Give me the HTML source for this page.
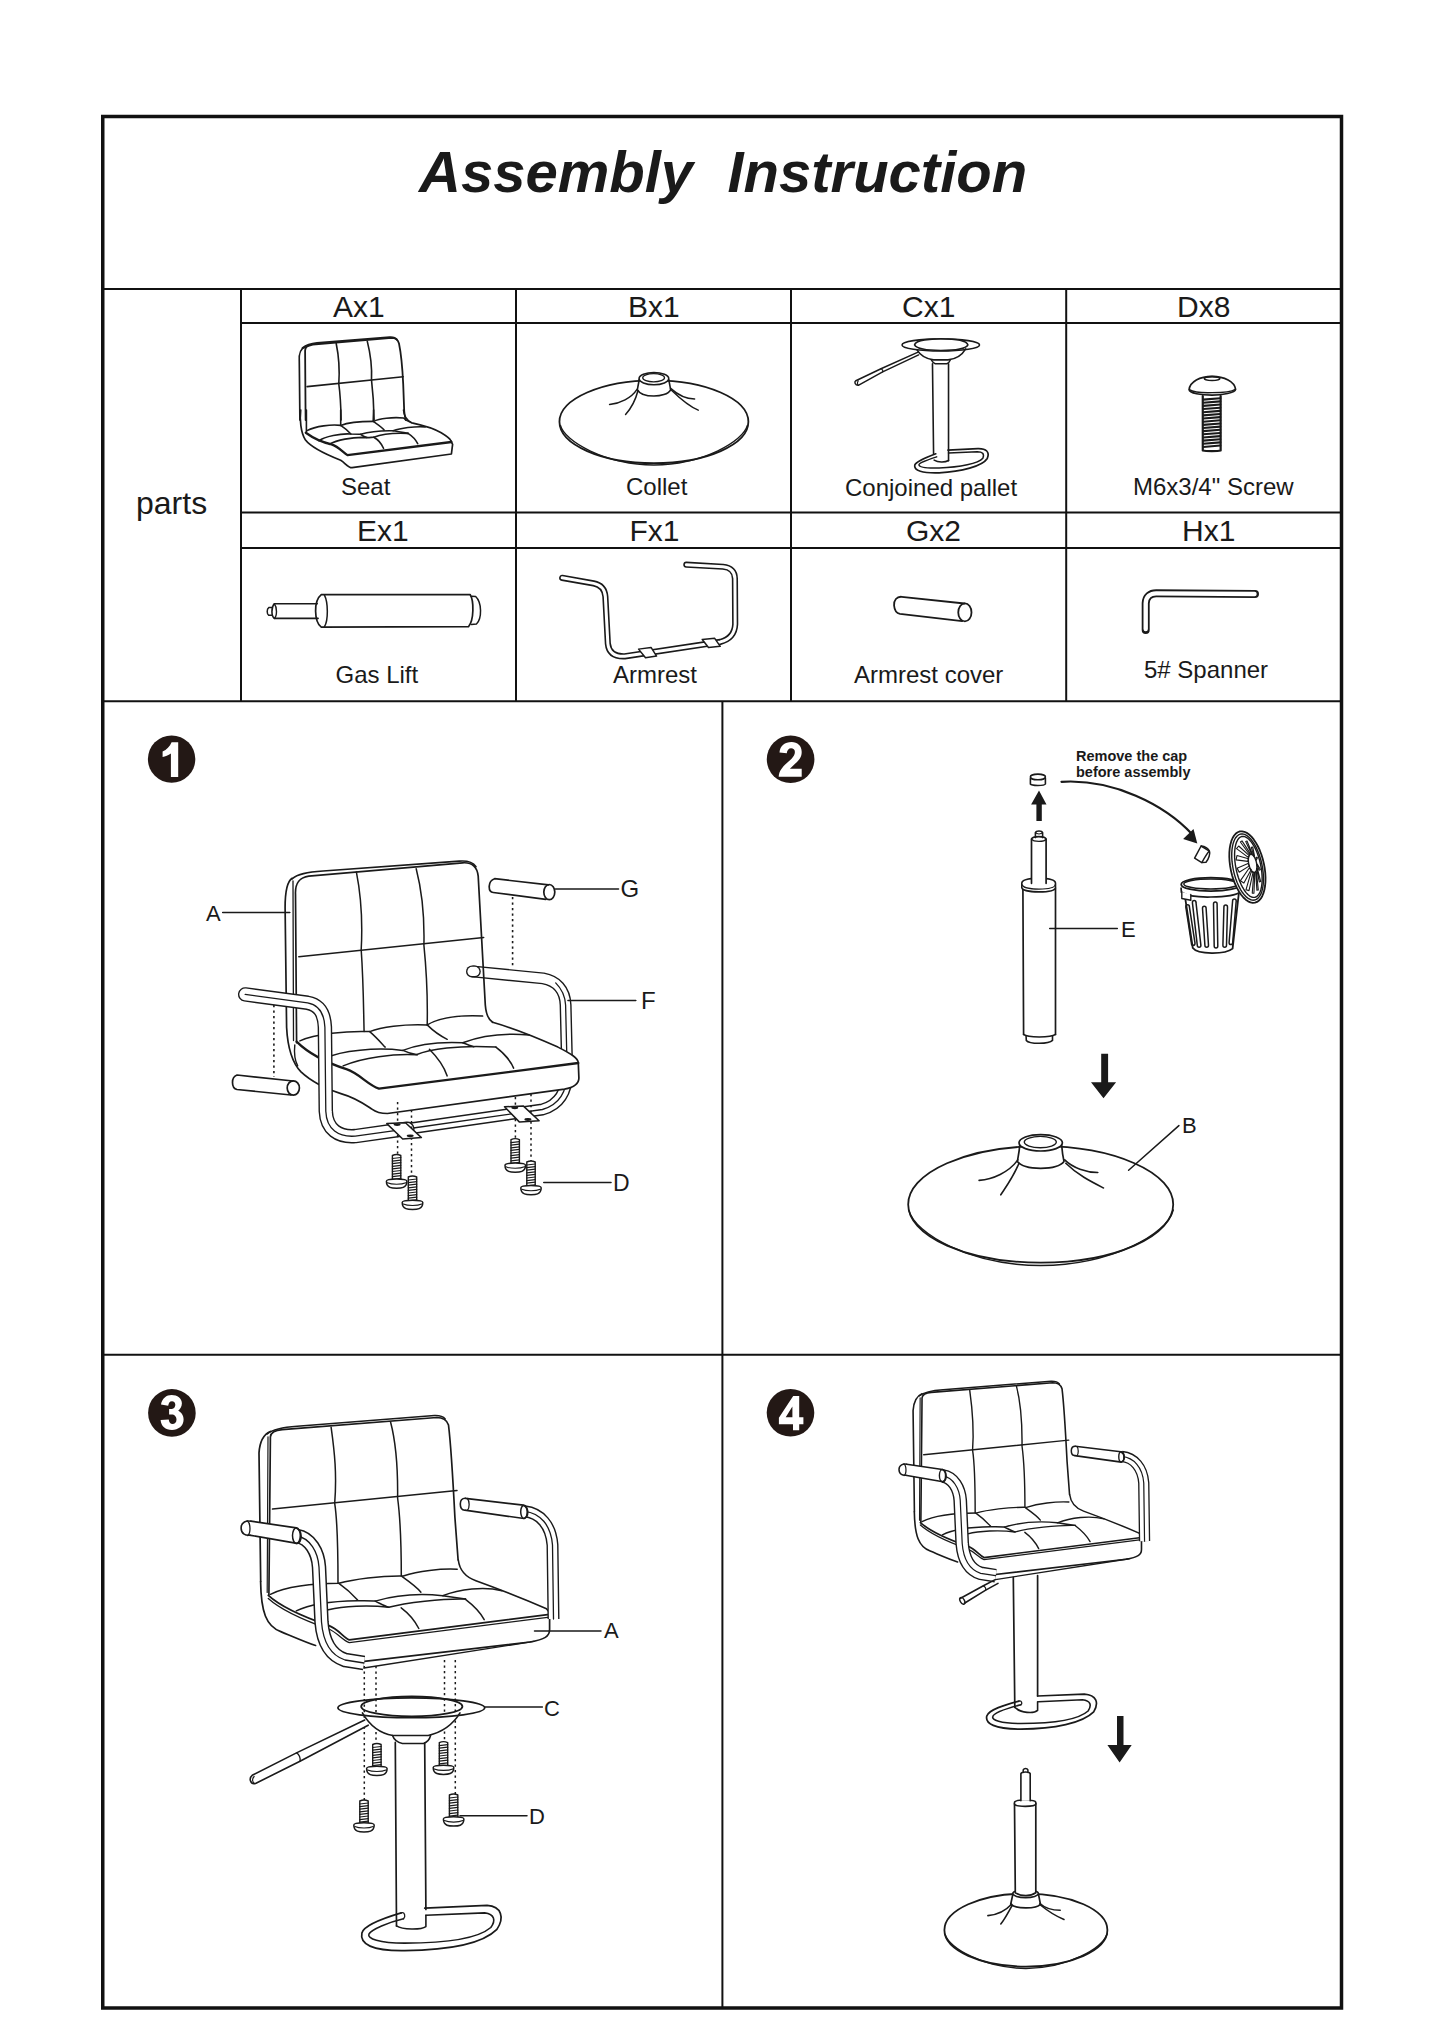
<!DOCTYPE html>
<html><head><meta charset="utf-8">
<style>
html,body{margin:0;padding:0;background:#fff;}
body{width:1445px;height:2043px;overflow:hidden;}
svg{display:block;}
.t{font-family:"Liberation Sans",sans-serif;fill:#1a1a1a;}
.g{stroke:#1a1a1a;fill:none;}
</style></head><body>
<svg width="1445" height="2043" viewBox="0 0 1445 2043">
<!-- grid -->
<g stroke="#111" fill="none">
<rect x="102.75" y="116.5" width="1238.75" height="1891.5" stroke-width="3.5"/>
<line x1="103" y1="289" x2="1341" y2="289" stroke-width="2"/>
<line x1="241" y1="323" x2="1341" y2="323" stroke-width="2"/>
<line x1="241" y1="512.5" x2="1341" y2="512.5" stroke-width="1.8"/>
<line x1="241" y1="548" x2="1341" y2="548" stroke-width="2"/>
<line x1="103" y1="701.3" x2="1341" y2="701.3" stroke-width="2"/>
<line x1="103" y1="1354.7" x2="1341" y2="1354.7" stroke-width="2"/>
<line x1="241" y1="289" x2="241" y2="701" stroke-width="2"/>
<line x1="516" y1="289" x2="516" y2="701" stroke-width="2"/>
<line x1="791" y1="289" x2="791" y2="701" stroke-width="2"/>
<line x1="1066.2" y1="289" x2="1066.2" y2="701" stroke-width="2"/>
<line x1="722.4" y1="701" x2="722.4" y2="2007" stroke-width="2"/>
</g>
<!-- title -->
<text class="t" x="419" y="192" font-size="58" font-weight="bold" font-style="italic">Assembly</text>
<text class="t" x="727.5" y="192" font-size="58" font-weight="bold" font-style="italic">Instruction</text>
<!-- headers -->
<g class="t" font-size="30">
<text x="333" y="317">Ax1</text>
<text x="628" y="317">Bx1</text>
<text x="902" y="317">Cx1</text>
<text x="1177" y="317">Dx8</text>
<text x="357" y="540.6">Ex1</text>
<text x="629.5" y="540.6">Fx1</text>
<text x="906" y="540.6">Gx2</text>
<text x="1182" y="540.6">Hx1</text>
</g>
<text class="t" x="136" y="514" font-size="32">parts</text>
<g class="t" font-size="24">
<text x="341" y="495">Seat</text>
<text x="626" y="495">Collet</text>
<text x="845" y="495.5">Conjoined pallet</text>
<text x="1133" y="495">M6x3/4" Screw</text>
<text x="335.5" y="683.2">Gas Lift</text>
<text x="613" y="683.2">Armrest</text>
<text x="854" y="683.2">Armrest cover</text>
<text x="1144" y="678.2">5# Spanner</text>
</g>
<!-- DRAWINGS -->
<g stroke-linecap="round" stroke-linejoin="round">
<!-- Collet B -->
<g transform="translate(550,360) scale(0.14533)" fill="none" stroke="#1a1a1a" stroke-linecap="round">
<ellipse vector-effect="non-scaling-stroke" stroke-width="1.8" cx="715" cy="425" rx="650" ry="285"/>
<path vector-effect="non-scaling-stroke" stroke-width="1.4" d="M72,450 C100,560 380,720 715,722 C1050,720 1330,560 1358,450"/>
<ellipse vector-effect="non-scaling-stroke" stroke-width="1.6" cx="715" cy="128" rx="102" ry="42" fill="#fff"/>
<ellipse vector-effect="non-scaling-stroke" stroke-width="1.3" cx="713" cy="122" rx="75" ry="28"/>
<path vector-effect="non-scaling-stroke" stroke-width="1.6" d="M613,135 C610,170 600,195 602,205 C620,240 680,248 715,248 C760,248 815,235 830,205 C828,190 822,160 817,135"/>
<path vector-effect="non-scaling-stroke" stroke-width="1.5" d="M600,200 C560,262 480,300 410,306"/>
<path vector-effect="non-scaling-stroke" stroke-width="1.5" d="M605,212 C585,290 552,340 520,375"/>
<path vector-effect="non-scaling-stroke" stroke-width="1.5" d="M830,195 C880,240 940,268 995,268"/>
<path vector-effect="non-scaling-stroke" stroke-width="1.5" d="M836,208 C900,270 960,320 1020,345"/>
</g>
<!-- Conjoined pallet C -->
<g transform="translate(845,330) scale(0.110727)" fill="none" stroke="#1a1a1a" stroke-linecap="round" stroke-linejoin="round">
<path vector-effect="non-scaling-stroke" stroke-width="1.5" d="M660,200 L325,350 L98,458 C80,470 92,500 120,500 L340,378 L665,225"/>
<path vector-effect="non-scaling-stroke" stroke-width="1.2" d="M325,350 C340,355 345,370 340,378 M120,460 C110,470 110,490 120,500"/>
<ellipse vector-effect="non-scaling-stroke" stroke-width="1.6" cx="865" cy="135" rx="350" ry="55" fill="#fff"/>
<path vector-effect="non-scaling-stroke" stroke-width="1.6" fill="#fff" d="M628,135 C640,90 780,80 865,80 C980,80 1100,90 1110,135 C1090,175 980,185 865,185 C760,185 650,175 628,135 Z"/>
<path vector-effect="non-scaling-stroke" stroke-width="1.6" d="M650,180 C690,245 760,265 800,270 L930,270 C1000,262 1060,222 1090,170"/>
<path vector-effect="non-scaling-stroke" stroke-width="1.5" d="M778,268 C790,290 805,302 815,305 L920,305 C935,300 945,285 952,268"/>
<path vector-effect="non-scaling-stroke" stroke-width="1.6" d="M790,305 L800,1120 M935,305 L935,1180"/>
<path vector-effect="non-scaling-stroke" stroke-width="1.6" d="M805,1175 C840,1195 900,1198 935,1178"/>
<path vector-effect="non-scaling-stroke" stroke-width="1.7" d="M930,1085 L1200,1072 C1275,1070 1310,1100 1285,1160 C1240,1230 1050,1280 850,1290 C700,1295 620,1270 630,1220 C640,1190 700,1165 820,1118"/>
<path vector-effect="non-scaling-stroke" stroke-width="1.5" d="M935,1110 L1195,1100 C1240,1100 1262,1118 1245,1158 C1205,1205 1040,1240 850,1246 C730,1250 672,1238 668,1218 C668,1200 720,1182 828,1146"/>
</g>
<!-- Screw D -->
<g transform="translate(1170,365) scale(0.05536)" fill="none" stroke="#1a1a1a" stroke-linecap="round" stroke-linejoin="round">
<path vector-effect="non-scaling-stroke" stroke-width="1.7" d="M345,445 C360,300 540,205 760,205 C980,205 1170,300 1185,440 C1175,500 950,545 760,545 C560,545 350,510 345,445 Z"/>
<path vector-effect="non-scaling-stroke" stroke-width="1.3" d="M350,445 C420,490 600,505 760,500 C950,500 1120,480 1180,440"/>
<ellipse vector-effect="non-scaling-stroke" stroke-width="1.6" cx="760" cy="245" rx="140" ry="35"/>
<path vector-effect="non-scaling-stroke" stroke-width="2.2" d="M592,560 L592,1545 C650,1560 860,1560 915,1545 L915,560"/>
<path vector-effect="non-scaling-stroke" stroke-width="2.1" d="M600,625 L908,600 M600,682 L908,657 M600,739 L908,714 M600,796 L908,771 M600,853 L908,828 M600,910 L908,885 M600,967 L908,942 M600,1024 L908,999 M600,1081 L908,1056 M600,1138 L908,1113 M600,1195 L908,1170 M600,1252 L908,1227 M600,1309 L908,1284 M600,1366 L908,1341 M600,1423 L908,1398 M600,1480 L908,1455"/>
</g>
<!-- Gas lift E -->
<g transform="translate(260,585) scale(0.15916)" fill="none" stroke="#1a1a1a" stroke-linecap="round" stroke-linejoin="round">
<path vector-effect="non-scaling-stroke" stroke-width="1.7" d="M385,60 L1320,60 C1345,100 1345,220 1310,262 L385,265 C340,230 335,100 385,60 Z"/>
<path vector-effect="non-scaling-stroke" stroke-width="1.5" d="M405,64 C428,110 430,220 405,262"/>
<path vector-effect="non-scaling-stroke" stroke-width="1.5" d="M1330,70 L1355,72 C1395,110 1395,210 1360,245 L1328,248"/>
<path vector-effect="non-scaling-stroke" stroke-width="1.6" d="M360,118 L90,118 C70,140 70,195 90,210 L365,210"/>
<path vector-effect="non-scaling-stroke" stroke-width="1.4" d="M90,118 C108,140 108,195 90,210"/>
<path vector-effect="non-scaling-stroke" stroke-width="1.5" d="M78,142 L55,142 C42,150 42,182 55,190 L78,190"/>
</g>
<!-- Armrest F -->
<g transform="translate(550,555) scale(0.13841)" fill="none" stroke-linecap="round" stroke-linejoin="round">
<path vector-effect="non-scaling-stroke" stroke="#1a1a1a" stroke-width="6.2" d="M88,165 L315,205 C370,215 395,245 400,300 L418,640 C425,710 470,735 540,732 L1230,628 C1300,610 1335,565 1338,500 L1336,170 C1334,110 1300,90 1250,85 L985,70"/>
<path vector-effect="non-scaling-stroke" stroke="#fff" stroke-width="3" d="M88,165 L315,205 C370,215 395,245 400,300 L418,640 C425,710 470,735 540,732 L1230,628 C1300,610 1335,565 1338,500 L1336,170 C1334,110 1300,90 1250,85 L985,70"/>
<path vector-effect="non-scaling-stroke" stroke="#1a1a1a" stroke-width="1.5" fill="#fff" d="M640,680 L730,668 L770,730 L690,742 Z"/>
<path vector-effect="non-scaling-stroke" stroke="#1a1a1a" stroke-width="1.5" fill="#fff" d="M1100,610 L1190,602 L1230,660 L1145,668 Z"/>
</g>
<!-- Armrest cover G -->
<g transform="translate(880,585) scale(0.076125)" fill="none" stroke="#1a1a1a" stroke-linecap="round" stroke-linejoin="round">
<path vector-effect="non-scaling-stroke" stroke-width="1.8" d="M1110,243 L285,155 C220,150 180,200 185,270 C190,330 220,372 262,378 L1080,475"/>
<ellipse vector-effect="non-scaling-stroke" stroke-width="1.8" cx="1115" cy="360" rx="87" ry="118"/>
</g>
<!-- Spanner H -->
<g transform="translate(1130,580) scale(0.09689)" fill="none" stroke-linecap="round" stroke-linejoin="round">
<path vector-effect="non-scaling-stroke" stroke="#1a1a1a" stroke-width="8" d="M162,515 L162,240 C165,170 210,138 270,138 L1290,145"/>
<path vector-effect="non-scaling-stroke" stroke="#fff" stroke-width="4.4" d="M162,505 L162,240 C165,170 210,138 270,138 L1285,145"/>
</g>

<path d="M 305.6,346.6 C 300.4,348.7 298.8,352.8 299.3,361.1 L 299.9,420.0" stroke="#1a1a1a" stroke-width="1.7" fill="none" />
<path d="M 300.7,410.0 C 299.6,419.1 300.7,432.8 305.3,439.7 C 312.1,448.8 329.3,455.7 340.7,460.2 C 345.2,462.8 347.5,467.7 352.1,467.7 L 451.4,454.0 L 452.6,444.3 L 450.9,440.8" stroke="#1a1a1a" stroke-width="1.7" fill="none" />
<path d="M 305.6,420.0 L 305.1,350.8 C 305.1,346.6 307.6,345.6 312.8,344.5 L 391.7,337.8 C 395.9,337.8 398.0,339.9 399.0,343.5 C 401.6,356.0 402.6,371.5 403.2,384.0 L 404.2,411.0 C 404.7,415.1 405.2,418.2 405.7,420.0" stroke="#1a1a1a" stroke-width="1.8" fill="none" />
<path d="M 302.5,347.9 C 306.6,344.7 310.8,343.5 317.0,342.9 L 389.7,337.1 C 393.8,336.9 395.9,338.1 396.9,339.6" stroke="#1a1a1a" stroke-width="1.8" fill="none" />
<path d="M 336.2,343.5 C 338.8,356.0 339.8,369.4 338.8,384.0 C 340.3,394.4 340.9,407.9 341.1,420.0" stroke="#1a1a1a" stroke-width="1.6" fill="none" />
<path d="M 367.3,341.4 C 371.0,356.0 372.0,369.4 371.5,379.8 C 373.0,392.3 373.9,407.9 374.1,420.0" stroke="#1a1a1a" stroke-width="1.6" fill="none" />
<path d="M 307.1,386.6 L 403.2,376.7" stroke="#1a1a1a" stroke-width="1.6" fill="none" />
<path d="M 306.4,410.0 L 306.4,431.7" stroke="#1a1a1a" stroke-width="1.6" fill="none" />
<path d="M 340.7,410.0 L 340.7,425.4 M 373.6,410.0 L 373.2,421.4" stroke="#1a1a1a" stroke-width="1.6" fill="none" />
<path d="M 403.5,410.0 C 404.0,416.9 406.9,420.3 411.5,422.6" stroke="#1a1a1a" stroke-width="1.6" fill="none" />
<path d="M 305.8,432.8 C 312.1,437.4 320.1,442.0 331.5,444.3 C 338.4,446.5 343.0,452.2 347.5,455.1 L 451.4,442.0" stroke="#1a1a1a" stroke-width="2.3" fill="none" />
<path d="M 307.0,430.6 C 315.6,426.0 331.5,424.3 340.7,425.4 C 346.4,423.1 358.9,421.4 373.2,421.4 C 379.5,418.6 392.1,416.9 403.5,418.0 C 405.8,420.3 409.2,422.0 411.5,422.8 C 420.6,424.8 432.0,427.1 441.2,432.8 C 446.9,436.3 450.3,439.1 450.9,440.8" stroke="#1a1a1a" stroke-width="1.6" fill="none" />
<path d="M 319.0,440.8 C 324.7,436.3 340.7,433.4 350.4,434.0 C 354.4,434.0 358.9,434.0 360.7,434.3 C 369.2,431.7 384.1,430.6 393.2,430.8 C 400.0,428.3 414.9,426.0 425.2,426.9" stroke="#1a1a1a" stroke-width="1.6" fill="none" />
<path d="M 329.3,444.3 C 337.2,439.7 352.1,437.4 362.4,437.4 C 368.1,438.0 370.4,437.4 373.8,437.2 C 381.8,434.0 395.5,432.8 408.0,433.4" stroke="#1a1a1a" stroke-width="1.6" fill="none" />
<path d="M 340.7,425.4 C 345.2,428.3 348.7,431.7 350.9,434.0" stroke="#1a1a1a" stroke-width="1.6" fill="none" />
<path d="M 373.2,421.4 C 377.2,424.3 381.8,427.1 384.1,430.0" stroke="#1a1a1a" stroke-width="1.6" fill="none" />
<path d="M 360.7,434.3 C 362.4,435.7 364.7,436.8 366.9,437.4" stroke="#1a1a1a" stroke-width="1.6" fill="none" />
<path d="M 373.8,437.2 C 378.4,439.7 381.8,444.3 383.5,448.3" stroke="#1a1a1a" stroke-width="1.6" fill="none" />
<path d="M 408.0,433.4 C 412.6,436.3 416.0,440.3 417.7,443.7" stroke="#1a1a1a" stroke-width="1.6" fill="none" />
<path d="M 393.2,430.8 C 397.8,431.5 403.5,432.6 408.0,433.4" stroke="#1a1a1a" stroke-width="1.6" fill="none" />
<circle cx="171.6" cy="759.1" r="23.7" fill="#231815"/>
<path d="M 171.6,742.3 L 178.2,742.3 L 178.2,777.1 L 170.9,777.1 L 170.9,753.5 C 168.2,755.3 165.3,756.6 162.6,757.0 L 162.6,751.4 C 166.6,749.9 169.9,746.6 171.6,742.3 Z" stroke="none" stroke-width="0" fill="#fff" />
<path d="M 402.9,1129.5 L 542.4,1109.5 C 557.9,1105.1 567.2,1093.6 567.2,1071.5 L 565.6,1005.0 C 565.0,989.5 556.1,980.7 543.1,978.4 L 472.0,971.4" stroke="#1a1a1a" stroke-width="12" fill="none" stroke-linecap="butt"/>
<path d="M 402.9,1129.5 L 542.4,1109.5 C 557.9,1105.1 567.2,1093.6 567.2,1071.5 L 565.6,1005.0 C 565.0,989.5 556.1,980.7 543.1,978.4 L 472.0,971.4" stroke="#fff" stroke-width="9.2" fill="none" stroke-linecap="butt"/>
<path d="M 402.9,1129.5 L 542.4,1109.5 C 557.9,1105.1 567.2,1093.6 567.2,1071.5 L 565.6,1005.0 C 565.0,993.9 560.1,987.3 555.7,982.9" stroke="#1a1a1a" stroke-width="1.3" fill="none" />
<path d="M 472.0,971.4 L 474.8,971.4" stroke="#1a1a1a" stroke-width="12" fill="none" />
<path d="M 472.0,971.4 L 474.8,971.4" stroke="#fff" stroke-width="9.2" fill="none" />
<path d="M 492.6,1022.3 C 513.6,1028.3 535.7,1037.1 557.9,1047.1 C 571.2,1053.7 578.3,1058.2 578.3,1063.0 L 578.9,1078.1 C 578.9,1084.3 574.5,1087.4 564.5,1089.2 L 402.9,1111.3 L 394.0,1071.5 L 425.0,1038.2 Z" stroke="none" stroke-width="0" fill="#fff" />
<path d="M 292.1,878.3 C 287.3,881.4 285.1,889.9 285.1,907.6 L 286.6,1027.2 C 287.7,1049.3 292.1,1062.6 301.0,1071.9 C 309.9,1080.3 325.4,1089.2 340.9,1093.6 C 356.4,1098.0 365.2,1104.7 371.9,1109.1 C 376.3,1112.4 380.7,1113.5 387.4,1113.5 L 564.5,1089.2 C 574.5,1087.4 578.9,1084.3 578.9,1078.1 L 578.3,1063.0" stroke="#1a1a1a" stroke-width="1.7" fill="none" />
<path d="M 296.6,1042.7 L 295.5,894.3 C 295.0,883.2 298.8,877.7 308.8,876.1 L 462.7,862.8 C 471.5,862.2 477.1,866.6 478.2,876.1 C 480.8,916.4 483.0,960.7 485.3,1005.0 C 486.1,1015.0 488.1,1019.4 492.6,1022.3" stroke="#1a1a1a" stroke-width="1.7" fill="none" />
<path d="M 292.1,878.8 C 297.7,873.9 306.5,872.1 323.1,871.0 L 459.3,861.1 C 468.2,860.4 473.3,862.8 476.0,866.6" stroke="#1a1a1a" stroke-width="1.6" fill="none" />
<path d="M 293.0,881.0 L 293.5,1040.5" stroke="#1a1a1a" stroke-width="1.3" fill="none" />
<path d="M 356.4,872.1 C 360.8,894.3 363.0,916.4 361.2,949.7 C 363.5,982.9 363.5,1009.4 364.1,1031.6" stroke="#1a1a1a" stroke-width="1.5" fill="none" />
<path d="M 416.2,868.8 C 422.8,894.3 424.6,916.4 423.9,945.2 C 426.8,974.0 427.7,1000.6 427.2,1024.9" stroke="#1a1a1a" stroke-width="1.5" fill="none" />
<path d="M 298.8,956.7 L 483.7,937.5" stroke="#1a1a1a" stroke-width="1.5" fill="none" />
<path d="M 296.6,1041.6 C 308.8,1053.7 327.6,1063.0 346.4,1069.2 C 359.7,1073.7 367.4,1084.7 379.0,1088.7 L 578.3,1063.0" stroke="#1a1a1a" stroke-width="2.3" fill="none" />
<path d="M 492.6,1022.3 C 513.6,1028.3 535.7,1037.1 557.9,1047.1 C 571.2,1053.7 578.3,1058.2 578.3,1063.0" stroke="#1a1a1a" stroke-width="1.6" fill="none" />
<path d="M 299.9,1040.9 C 314.3,1034.3 347.5,1030.5 369.7,1031.6 C 380.7,1027.2 402.9,1023.8 427.2,1024.9 C 438.3,1018.3 458.2,1015.0 482.6,1016.1" stroke="#1a1a1a" stroke-width="1.5" fill="none" />
<path d="M 325.4,1058.2 C 340.9,1050.4 376.3,1047.1 402.9,1050.4 C 416.2,1044.9 438.3,1041.6 462.7,1042.7 C 480.4,1036.0 502.5,1032.7 529.1,1034.9" stroke="#1a1a1a" stroke-width="1.5" fill="none" />
<path d="M 343.1,1065.9 C 363.0,1057.1 394.0,1053.7 416.2,1054.8 C 429.4,1049.3 458.2,1044.9 495.9,1047.1" stroke="#1a1a1a" stroke-width="1.5" fill="none" />
<path d="M 369.7,1031.6 C 377.4,1038.2 382.9,1044.9 385.2,1047.1" stroke="#1a1a1a" stroke-width="1.5" fill="none" />
<path d="M 427.2,1024.9 C 433.9,1031.6 442.7,1037.1 447.2,1039.3" stroke="#1a1a1a" stroke-width="1.5" fill="none" />
<path d="M 402.9,1050.4 C 407.3,1052.6 413.9,1054.2 417.3,1054.8" stroke="#1a1a1a" stroke-width="1.5" fill="none" />
<path d="M 429.4,1049.3 C 438.3,1058.2 444.9,1069.2 447.2,1075.9" stroke="#1a1a1a" stroke-width="1.5" fill="none" />
<path d="M 462.7,1042.7 C 467.1,1044.4 471.5,1046.0 473.7,1046.7" stroke="#1a1a1a" stroke-width="1.5" fill="none" />
<path d="M 495.9,1047.1 C 504.7,1053.7 511.4,1062.6 513.6,1068.1" stroke="#1a1a1a" stroke-width="1.5" fill="none" />
<path d="M 294.8,1044.9 C 293.9,1053.7 294.8,1060.4 297.7,1065.9" stroke="#1a1a1a" stroke-width="1.4" fill="none" />
<path d="M 245.2,994.4 L 307.6,1002.8 C 319.8,1005.0 324.3,1013.9 324.9,1027.2 L 325.8,1111.3 C 326.5,1129.5 338.7,1137.4 355.3,1136.1 L 407.3,1128.8" stroke="#1a1a1a" stroke-width="14.5" fill="none" />
<path d="M 245.2,994.4 L 307.6,1002.8 C 319.8,1005.0 324.3,1013.9 324.9,1027.2 L 325.8,1111.3 C 326.5,1129.5 338.7,1137.4 355.3,1136.1 L 407.3,1128.8" stroke="#fff" stroke-width="11.7" fill="none" />
<path d="M 245.2,994.4 L 307.6,1002.8 C 319.8,1005.0 324.3,1013.9 324.9,1027.2 L 325.8,1111.3 C 326.5,1129.5 338.7,1137.4 355.3,1136.1 L 407.3,1128.8" stroke="#1a1a1a" stroke-width="1.3" fill="none" />
<path d="M 548.6,884.9 L 494.6,878.7 C 487.7,880.8 487.7,891.8 493.2,892.5 L 545.8,899.4" stroke="#1a1a1a" stroke-width="1.7" fill="none" />
<ellipse cx="549.3" cy="892.1" rx="5.5" ry="7.6" stroke="#1a1a1a" stroke-width="1.7" fill="none" />
<path d="M293,1081 L237,1075 C231,1077 231,1088 237,1089.5 L291,1095" stroke="#1a1a1a" stroke-width="1.7" fill="none"/>
<ellipse cx="293.3" cy="1088.0" rx="6.1" ry="7.2" stroke="#1a1a1a" stroke-width="1.7" fill="none" />
<path d="M512.6,897 L512.6,967" stroke="#1a1a1a" stroke-width="1.6" fill="none" stroke-dasharray="2.2,3.3" stroke-linecap="butt"/>
<path d="M273.9,1005 L273.9,1077" stroke="#1a1a1a" stroke-width="1.6" fill="none" stroke-dasharray="2.2,3.3" stroke-linecap="butt"/>
<path d="M397.6,1102 L397.6,1154" stroke="#1a1a1a" stroke-width="1.5" fill="none" stroke-dasharray="2.2,3.3" stroke-linecap="butt"/>
<path d="M411.5,1110 L411.5,1176" stroke="#1a1a1a" stroke-width="1.5" fill="none" stroke-dasharray="2.2,3.3" stroke-linecap="butt"/>
<path d="M515.4,1097 L515.4,1138" stroke="#1a1a1a" stroke-width="1.5" fill="none" stroke-dasharray="2.2,3.3" stroke-linecap="butt"/>
<path d="M531,1094 L531,1161" stroke="#1a1a1a" stroke-width="1.5" fill="none" stroke-dasharray="2.2,3.3" stroke-linecap="butt"/>
<path d="M386.8,1123.6 L405.5,1122.7 L421.4,1137.6 L402.7,1139 Z" stroke="#1a1a1a" stroke-width="1.5" fill="#fff"/>
<path d="M504.5,1106.8 L523.2,1105.9 L539.1,1120.8 L519.5,1122.1 Z" stroke="#1a1a1a" stroke-width="1.5" fill="#fff"/>
<ellipse cx="397.1" cy="1124.6" rx="3.5" ry="1.4" fill="#1a1a1a"/>
<ellipse cx="410.2" cy="1135.8" rx="3.5" ry="1.4" fill="#1a1a1a"/>
<ellipse cx="514.8" cy="1107.8" rx="3.5" ry="1.4" fill="#1a1a1a"/>
<ellipse cx="527.9" cy="1119.5" rx="3.5" ry="1.4" fill="#1a1a1a"/>
<path d="M392.4,1179.7 L392.4,1155.5 Q396.6,1153.5 400.8,1155.5 L400.8,1179.7" stroke="#1a1a1a" stroke-width="1.4" fill="#fff"/>
<path d="M392.4,1158.5 L400.8,1157.5" stroke="#1a1a1a" stroke-width="1.2"/>
<path d="M392.4,1161.1 L400.8,1160.1" stroke="#1a1a1a" stroke-width="1.2"/>
<path d="M392.4,1163.7 L400.8,1162.7" stroke="#1a1a1a" stroke-width="1.2"/>
<path d="M392.4,1166.3 L400.8,1165.3" stroke="#1a1a1a" stroke-width="1.2"/>
<path d="M392.4,1168.9 L400.8,1167.9" stroke="#1a1a1a" stroke-width="1.2"/>
<path d="M392.4,1171.5 L400.8,1170.5" stroke="#1a1a1a" stroke-width="1.2"/>
<path d="M392.4,1174.1 L400.8,1173.1" stroke="#1a1a1a" stroke-width="1.2"/>
<path d="M392.4,1176.7 L400.8,1175.7" stroke="#1a1a1a" stroke-width="1.2"/>
<path d="M392.4,1179.3 L400.8,1178.3" stroke="#1a1a1a" stroke-width="1.2"/>
<path d="M386.4,1181.2 C386.4,1178.2 406.9,1178.2 406.9,1181.2 C406.9,1188.2 400.6,1188.2 396.6,1188.2 C392.6,1188.2 386.4,1188.2 386.4,1181.2 Z" stroke="#1a1a1a" stroke-width="1.5" fill="#fff"/>
<path d="M387.4,1182.7 C391.6,1184.7 401.6,1184.7 405.9,1182.7" stroke="#1a1a1a" stroke-width="1.1" fill="none"/>
<path d="M408.3,1201 L408.3,1177 Q412.5,1175 416.7,1177 L416.7,1201" stroke="#1a1a1a" stroke-width="1.4" fill="#fff"/>
<path d="M408.3,1180.0 L416.7,1179.0" stroke="#1a1a1a" stroke-width="1.2"/>
<path d="M408.3,1182.6 L416.7,1181.6" stroke="#1a1a1a" stroke-width="1.2"/>
<path d="M408.3,1185.2 L416.7,1184.2" stroke="#1a1a1a" stroke-width="1.2"/>
<path d="M408.3,1187.8 L416.7,1186.8" stroke="#1a1a1a" stroke-width="1.2"/>
<path d="M408.3,1190.4 L416.7,1189.4" stroke="#1a1a1a" stroke-width="1.2"/>
<path d="M408.3,1193.0 L416.7,1192.0" stroke="#1a1a1a" stroke-width="1.2"/>
<path d="M408.3,1195.6 L416.7,1194.6" stroke="#1a1a1a" stroke-width="1.2"/>
<path d="M408.3,1198.2 L416.7,1197.2" stroke="#1a1a1a" stroke-width="1.2"/>
<path d="M408.3,1200.8 L416.7,1199.8" stroke="#1a1a1a" stroke-width="1.2"/>
<path d="M402.2,1202.5 C402.2,1199.5 422.8,1199.5 422.8,1202.5 C422.8,1209.5 416.5,1209.5 412.5,1209.5 C408.5,1209.5 402.2,1209.5 402.2,1202.5 Z" stroke="#1a1a1a" stroke-width="1.5" fill="#fff"/>
<path d="M403.2,1204 C407.5,1206 417.5,1206 421.8,1204" stroke="#1a1a1a" stroke-width="1.1" fill="none"/>
<path d="M511.0,1163.8 L511.0,1139.6 Q515.2,1137.6 519.4,1139.6 L519.4,1163.8" stroke="#1a1a1a" stroke-width="1.4" fill="#fff"/>
<path d="M511.0,1142.6 L519.4,1141.6" stroke="#1a1a1a" stroke-width="1.2"/>
<path d="M511.0,1145.2 L519.4,1144.2" stroke="#1a1a1a" stroke-width="1.2"/>
<path d="M511.0,1147.8 L519.4,1146.8" stroke="#1a1a1a" stroke-width="1.2"/>
<path d="M511.0,1150.4 L519.4,1149.4" stroke="#1a1a1a" stroke-width="1.2"/>
<path d="M511.0,1153.0 L519.4,1152.0" stroke="#1a1a1a" stroke-width="1.2"/>
<path d="M511.0,1155.6 L519.4,1154.6" stroke="#1a1a1a" stroke-width="1.2"/>
<path d="M511.0,1158.2 L519.4,1157.2" stroke="#1a1a1a" stroke-width="1.2"/>
<path d="M511.0,1160.8 L519.4,1159.8" stroke="#1a1a1a" stroke-width="1.2"/>
<path d="M511.0,1163.4 L519.4,1162.4" stroke="#1a1a1a" stroke-width="1.2"/>
<path d="M505.0,1165.3 C505.0,1162.3 525.5,1162.3 525.5,1165.3 C525.5,1172.3 519.2,1172.3 515.2,1172.3 C511.2,1172.3 505.0,1172.3 505.0,1165.3 Z" stroke="#1a1a1a" stroke-width="1.5" fill="#fff"/>
<path d="M506.0,1166.8 C510.2,1168.8 520.2,1168.8 524.5,1166.8" stroke="#1a1a1a" stroke-width="1.1" fill="none"/>
<path d="M526.8,1186.2 L526.8,1162 Q531,1160 535.2,1162 L535.2,1186.2" stroke="#1a1a1a" stroke-width="1.4" fill="#fff"/>
<path d="M526.8,1165.0 L535.2,1164.0" stroke="#1a1a1a" stroke-width="1.2"/>
<path d="M526.8,1167.6 L535.2,1166.6" stroke="#1a1a1a" stroke-width="1.2"/>
<path d="M526.8,1170.2 L535.2,1169.2" stroke="#1a1a1a" stroke-width="1.2"/>
<path d="M526.8,1172.8 L535.2,1171.8" stroke="#1a1a1a" stroke-width="1.2"/>
<path d="M526.8,1175.4 L535.2,1174.4" stroke="#1a1a1a" stroke-width="1.2"/>
<path d="M526.8,1178.0 L535.2,1177.0" stroke="#1a1a1a" stroke-width="1.2"/>
<path d="M526.8,1180.6 L535.2,1179.6" stroke="#1a1a1a" stroke-width="1.2"/>
<path d="M526.8,1183.2 L535.2,1182.2" stroke="#1a1a1a" stroke-width="1.2"/>
<path d="M526.8,1185.8 L535.2,1184.8" stroke="#1a1a1a" stroke-width="1.2"/>
<path d="M520.8,1187.7 C520.8,1184.7 541.2,1184.7 541.2,1187.7 C541.2,1194.7 535.0,1194.7 531.0,1194.7 C527.0,1194.7 520.8,1194.7 520.8,1187.7 Z" stroke="#1a1a1a" stroke-width="1.5" fill="#fff"/>
<path d="M521.8,1189.2 C526.0,1191.2 536.0,1191.2 540.2,1189.2" stroke="#1a1a1a" stroke-width="1.1" fill="none"/>
<path d="M222.7,912.5 L289.8,912.5 M555.5,889 L618.5,889 M568,1000.5 L635.8,1000.5 M543.8,1182.5 L611,1182.5" stroke="#1a1a1a" stroke-width="1.6"/>
<text class="t" x="206" y="921" font-size="22" >A</text>
<text class="t" x="620.5" y="897" font-size="24" >G</text>
<text class="t" x="641" y="1009" font-size="24" >F</text>
<text class="t" x="613" y="1191" font-size="23" >D</text>
<circle cx="790.6" cy="759.3" r="23.8" fill="#231815"/>
<path d="M 779.5,752.6 C 779.9,745.8 784.9,742.0 791.6,742.0 C 797.4,742.0 801.7,745.8 801.7,752.0 C 801.7,757.4 798.6,760.7 795.3,763.6 L 789.9,768.8 L 801.7,768.8 L 801.7,776.7 L 778.7,776.7 C 779.1,771.1 782.0,767.4 786.6,763.2 L 791.6,758.7 C 793.6,756.6 794.9,754.5 794.9,752.0 C 794.9,749.5 793.2,748.3 791.1,748.3 C 788.7,748.3 787.0,750.3 786.8,753.3 Z" stroke="none" stroke-width="0" fill="#fff" />
<path d="M 1022.9,888.0 L 1023.6,1034.4 M 1055.5,888.0 L 1055.5,1034.4" stroke="#1a1a1a" stroke-width="1.7" fill="none" />
<path d="M 1021.8,883.3 C 1021.8,879.5 1031.5,878.4 1039.0,878.4 C 1048.7,878.4 1055.5,879.9 1055.5,883.3 L 1055.5,887.6 C 1055.1,890.6 1047.6,891.9 1039.0,891.9 C 1031.5,891.9 1022.3,890.6 1021.8,887.6 Z" stroke="#1a1a1a" stroke-width="1.6" fill="#fff" />
<path d="M 1022.3,884.8 C 1022.9,888.0 1032.6,889.1 1039.0,889.1 C 1046.5,889.1 1054.7,888.0 1055.1,884.8" stroke="#1a1a1a" stroke-width="1.2" fill="none" />
<path d="M 1023.6,1034.4 C 1027.6,1037.8 1050.8,1037.8 1055.5,1034.4" stroke="#1a1a1a" stroke-width="1.6" fill="none" />
<path d="M 1026.1,1036.5 L 1026.3,1040.4 C 1029.3,1044.2 1048.7,1044.2 1052.5,1040.4 L 1052.5,1036.5" stroke="#1a1a1a" stroke-width="1.6" fill="none" />
<path d="M 1031.5,883.3 L 1031.5,839.1 C 1032.6,835.9 1045.0,835.9 1046.1,839.1 L 1046.1,883.3" stroke="#1a1a1a" stroke-width="1.7" fill="#fff" />
<path d="M 1031.5,839.1 C 1033.6,842.1 1044.4,842.1 1046.1,839.1" stroke="#1a1a1a" stroke-width="1.3" fill="none" />
<path d="M 1035.4,837.6 L 1035.4,832.7 C 1036.2,830.5 1041.8,830.5 1042.6,832.7 L 1042.6,837.6" stroke="#1a1a1a" stroke-width="1.6" fill="none" />
<path d="M 1035.4,832.7 C 1036.9,834.4 1041.1,834.4 1042.6,832.7" stroke="#1a1a1a" stroke-width="1.1" fill="none" />
<path d="M 1030.4,778.2 L 1030.4,784.0 C 1031.5,785.9 1044.4,785.9 1045.4,784.0 L 1045.4,778.2" stroke="#1a1a1a" stroke-width="1.6" fill="none" />
<ellipse cx="1037.9" cy="776.9" rx="7.5" ry="2.8" stroke="#1a1a1a" stroke-width="1.6" fill="none" />
<path d="M 1036.4,821.1 L 1036.4,804.4 L 1031.1,804.4 L 1039.0,790.4 L 1046.5,804.4 L 1041.8,804.4 L 1041.8,821.1 Z" stroke="none" stroke-width="0" fill="#1a1a1a" />
<path d="M 1061.5,781.8 C 1113.0,778.6 1164.5,804.4 1192.4,834.4" stroke="#1a1a1a" stroke-width="2.2" fill="none" />
<path d="M 1183.1,839.0 L 1193.5,829.0 L 1197.3,843.5 Z" stroke="none" stroke-width="0" fill="#1a1a1a" />
<text class="t" x="1076" y="761.3" font-size="14.5" font-weight="bold">Remove the cap</text>
<text class="t" x="1076" y="777" font-size="14.5" font-weight="bold">before assembly</text>
<path d="M1049.7,928.4 L1117.3,928.4" stroke="#1a1a1a" stroke-width="1.5"/>
<text class="t" x="1121" y="936.5" font-size="22" >E</text>
<path d="M 1201.1,846.0 L 1209.4,851.1 C 1210.5,853.2 1208.8,858.8 1206.0,862.2 L 1201.8,862.6 L 1194.6,858.1 Z" stroke="#1a1a1a" stroke-width="1.5" fill="#fff" />
<path d="M 1201.1,846.0 C 1205.3,846.3 1208.8,849.1 1209.4,851.1 C 1207.4,852.5 1203.9,858.8 1201.8,862.6" stroke="#1a1a1a" stroke-width="1.4" fill="none" />
<path d="M 1184.9,896.1 L 1192.8,948.0 C 1197.7,954.6 1225.4,954.6 1232.6,948.6 L 1238.9,892.7" stroke="#1a1a1a" stroke-width="1.8" fill="none" />
<path d="M 1185.8,906.9 C 1185.8,904.1 1189.4,904.1 1189.4,906.9 L 1195.0,943.2 C 1195.0,946.0 1191.4,946.0 1191.4,943.2 Z" stroke="#1a1a1a" stroke-width="1.5" fill="none" />
<path d="M 1192.4,902.7 C 1192.4,899.9 1196.0,899.9 1196.0,902.7 L 1200.9,945.3 C 1200.9,948.0 1197.3,948.0 1197.3,945.3 Z" stroke="#1a1a1a" stroke-width="1.5" fill="none" />
<path d="M 1202.5,908.2 C 1202.5,905.5 1206.1,905.5 1206.1,908.2 L 1208.5,945.3 C 1208.5,948.0 1204.9,948.0 1204.9,945.3 Z" stroke="#1a1a1a" stroke-width="1.5" fill="none" />
<path d="M 1213.5,904.1 C 1213.5,901.3 1217.1,901.3 1217.1,904.1 L 1217.8,946.0 C 1217.8,948.7 1214.2,948.7 1214.2,946.0 Z" stroke="#1a1a1a" stroke-width="1.5" fill="none" />
<path d="M 1223.9,907.2 C 1223.9,904.4 1227.5,904.4 1227.5,907.2 L 1226.5,945.3 C 1226.5,948.0 1222.9,948.0 1222.9,945.3 Z" stroke="#1a1a1a" stroke-width="1.5" fill="none" />
<path d="M 1232.6,901.0 C 1232.6,898.2 1236.2,898.2 1236.2,901.0 L 1232.7,942.5 C 1232.7,945.3 1229.1,945.3 1229.1,942.5 Z" stroke="#1a1a1a" stroke-width="1.5" fill="none" />
<path d="M 1181.1,888.2 L 1181.4,892.3 C 1188.0,896.5 1201.8,897.2 1210.8,897.0 C 1222.6,896.8 1235.7,895.6 1240.6,892.0 L 1240.7,887.5" stroke="#1a1a1a" stroke-width="1.7" fill="#fff" />
<ellipse cx="1210.8" cy="884.4" rx="29.6" ry="6.7" stroke="#1a1a1a" stroke-width="1.8" fill="#fff" />
<ellipse cx="1210.8" cy="884.0" rx="27.0" ry="5.0" stroke="#1a1a1a" stroke-width="1.5" fill="none" />
<path d="M 1181.8,892.0 L 1181.8,898.5 L 1190.8,900.3 L 1190.8,894.4" stroke="#1a1a1a" stroke-width="1.4" fill="#fff" />
<path d="M1263.88,863.59 L1264.72,868.27 L1265.27,872.93 L1265.52,877.49 L1265.46,881.87 L1265.08,886.00 L1264.41,889.80 L1263.44,893.22 L1262.20,896.19 L1260.70,898.66 L1258.98,900.59 L1257.06,901.95 L1254.98,902.71 L1252.76,902.86 L1250.46,902.40 L1248.10,901.34 L1245.73,899.69 L1243.39,897.48 L1241.12,894.75 L1238.95,891.55 L1236.93,887.93 L1235.09,883.96 L1233.46,879.69 L1232.07,875.21 L1230.94,870.59 L1230.09,865.91 L1229.54,861.25 L1229.30,856.69 L1229.36,852.31 L1229.73,848.19 L1230.41,844.38 L1231.38,840.96 L1232.62,838.00 L1234.11,835.52 L1235.83,833.59 L1237.75,832.23 L1239.84,831.47 L1242.05,831.32 L1244.36,831.78 L1246.72,832.84 L1249.09,834.49 L1251.43,836.70 L1253.70,839.43 L1255.86,842.63 L1257.88,846.25 L1259.73,850.23 L1261.36,854.49 L1262.75,858.97 L1263.88,863.59 Z" stroke="#1a1a1a" stroke-width="1.8" fill="#fff"/>
<path d="M1261.85,864.02 L1262.64,868.36 L1263.18,872.67 L1263.45,876.89 L1263.45,880.93 L1263.17,884.74 L1262.64,888.25 L1261.84,891.40 L1260.80,894.13 L1259.53,896.39 L1258.07,898.15 L1256.42,899.39 L1254.62,900.06 L1252.70,900.18 L1250.69,899.72 L1248.63,898.71 L1246.55,897.15 L1244.49,895.08 L1242.49,892.54 L1240.57,889.55 L1238.77,886.18 L1237.12,882.48 L1235.65,878.52 L1234.39,874.36 L1233.35,870.08 L1232.56,865.74 L1232.02,861.43 L1231.75,857.21 L1231.75,853.17 L1232.02,849.36 L1232.56,845.85 L1233.36,842.70 L1234.40,839.97 L1235.66,837.71 L1237.13,835.95 L1238.78,834.71 L1240.58,834.04 L1242.50,833.92 L1244.51,834.38 L1246.57,835.39 L1248.65,836.95 L1250.71,839.02 L1252.71,841.56 L1254.63,844.55 L1256.43,847.92 L1258.08,851.62 L1259.54,855.58 L1260.81,859.74 L1261.85,864.02 Z" stroke="#1a1a1a" stroke-width="1.4" fill="none"/>
<path d="M1260.54,864.30 L1261.28,868.29 L1261.80,872.27 L1262.09,876.15 L1262.15,879.87 L1261.97,883.37 L1261.55,886.59 L1260.91,889.47 L1260.06,891.96 L1259.01,894.03 L1257.77,895.63 L1256.37,896.74 L1254.84,897.33 L1253.19,897.41 L1251.46,896.97 L1249.68,896.01 L1247.88,894.55 L1246.09,892.62 L1244.33,890.25 L1242.64,887.48 L1241.05,884.35 L1239.59,880.93 L1238.28,877.27 L1237.14,873.43 L1236.19,869.48 L1235.45,865.48 L1234.93,861.51 L1234.64,857.63 L1234.58,853.91 L1234.76,850.41 L1235.18,847.19 L1235.82,844.31 L1236.67,841.81 L1237.73,839.75 L1238.96,838.15 L1240.36,837.04 L1241.89,836.44 L1243.54,836.36 L1245.27,836.81 L1247.05,837.77 L1248.85,839.22 L1250.65,841.16 L1252.40,843.53 L1254.09,846.30 L1255.68,849.42 L1257.14,852.84 L1258.45,856.51 L1259.60,860.35 L1260.54,864.30 Z" stroke="#1a1a1a" stroke-width="1.4" fill="none"/>
<path d="M1256.59,864.61 L1259.11,870.23 L1260.37,869.59 L1257.34,864.23 Z" stroke="#1a1a1a" stroke-width="1.1" fill="#fff" stroke-linejoin="round"/>
<path d="M1256.60,868.78 L1259.31,881.85 L1260.69,881.54 L1257.42,868.59 Z" stroke="#1a1a1a" stroke-width="1.1" fill="#fff" stroke-linejoin="round"/>
<path d="M1255.63,871.77 L1256.90,890.15 L1258.30,890.03 L1256.47,871.70 Z" stroke="#1a1a1a" stroke-width="1.1" fill="#fff" stroke-linejoin="round"/>
<path d="M1253.81,872.84 L1252.25,893.12 L1253.92,893.22 L1254.81,872.90 Z" stroke="#1a1a1a" stroke-width="1.1" fill="#fff" stroke-linejoin="round"/>
<path d="M1251.26,871.60 L1245.96,889.83 L1249.02,890.62 L1253.10,872.06 Z" stroke="#1a1a1a" stroke-width="1.1" fill="#fff" stroke-linejoin="round"/>
<path d="M1249.06,868.19 L1240.28,880.82 L1243.90,883.05 L1251.24,869.53 Z" stroke="#1a1a1a" stroke-width="1.1" fill="#fff" stroke-linejoin="round"/>
<path d="M1248.03,863.38 L1237.04,868.13 L1239.23,872.28 L1249.35,865.87 Z" stroke="#1a1a1a" stroke-width="1.1" fill="#fff" stroke-linejoin="round"/>
<path d="M1248.40,858.83 L1236.96,855.56 L1236.07,859.85 L1247.86,861.40 Z" stroke="#1a1a1a" stroke-width="1.1" fill="#fff" stroke-linejoin="round"/>
<path d="M1249.25,855.56 L1238.69,846.01 L1236.54,848.62 L1247.95,857.13 Z" stroke="#1a1a1a" stroke-width="1.1" fill="#fff" stroke-linejoin="round"/>
<path d="M1250.47,853.86 L1241.98,840.86 L1240.38,841.96 L1249.51,854.52 Z" stroke="#1a1a1a" stroke-width="1.1" fill="#fff" stroke-linejoin="round"/>
<path d="M1252.37,853.97 L1247.03,841.05 L1245.74,841.62 L1251.60,854.31 Z" stroke="#1a1a1a" stroke-width="1.1" fill="#fff" stroke-linejoin="round"/>
<path d="M1254.54,856.11 L1252.74,846.96 L1251.36,847.28 L1253.71,856.30 Z" stroke="#1a1a1a" stroke-width="1.1" fill="#fff" stroke-linejoin="round"/>
<path d="M1256.32,860.07 L1257.52,857.68 L1256.21,857.18 L1255.53,859.77 Z" stroke="#1a1a1a" stroke-width="1.1" fill="#fff" stroke-linejoin="round"/>
<path d="M1256.45,862.57 L1256.67,863.75 L1256.82,864.92 L1256.89,866.07 L1256.90,867.18 L1256.83,868.21 L1256.68,869.17 L1256.47,870.03 L1256.20,870.77 L1255.86,871.38 L1255.46,871.86 L1255.02,872.20 L1254.54,872.38 L1254.02,872.41 L1253.48,872.28 L1252.93,872.01 L1252.37,871.58 L1251.81,871.02 L1251.27,870.32 L1250.75,869.51 L1250.26,868.59 L1249.82,867.58 L1249.42,866.50 L1249.08,865.36 L1248.79,864.19 L1248.58,863.01 L1248.43,861.84 L1248.35,860.69 L1248.35,859.59 L1248.42,858.55 L1248.56,857.59 L1248.77,856.74 L1249.05,855.99 L1249.39,855.38 L1249.78,854.90 L1250.23,854.56 L1250.71,854.38 L1251.23,854.35 L1251.77,854.48 L1252.32,854.75 L1252.88,855.18 L1253.44,855.74 L1253.98,856.44 L1254.50,857.26 L1254.98,858.18 L1255.43,859.18 L1255.83,860.26 L1256.17,861.40 L1256.45,862.57 Z" stroke="#1a1a1a" stroke-width="1.4" fill="none"/>
<path d="M 1101.2,1053.7 L 1108.1,1053.7 L 1108.1,1082.2 L 1116.1,1082.2 L 1103.5,1098.2 L 1091.0,1082.2 L 1101.2,1082.2 Z" stroke="none" stroke-width="0" fill="#1a1a1a" />
<ellipse cx="1040.7" cy="1204.4" rx="132.5" ry="58.2" stroke="#1a1a1a" stroke-width="1.8" fill="none" />
<path d="M 908.7,1210.1 C 915.1,1234.1 969.9,1264.9 1040.7,1265.6 C 1111.5,1264.9 1167.5,1234.1 1173.2,1210.1" stroke="#1a1a1a" stroke-width="1.5" fill="none" />
<ellipse cx="1040.7" cy="1142.8" rx="21.7" ry="8.2" stroke="#1a1a1a" stroke-width="1.7" fill="#fff" />
<ellipse cx="1040.3" cy="1142.1" rx="16.0" ry="5.7" stroke="#1a1a1a" stroke-width="1.4" fill="none" />
<path d="M 1019.7,1145.5 C 1019.3,1151.9 1017.9,1157.6 1017.4,1161.5 C 1021.3,1166.7 1031.6,1168.3 1040.7,1168.3 C 1049.9,1168.3 1060.1,1166.7 1064.0,1161.5 C 1063.1,1157.6 1062.2,1151.9 1061.7,1145.5" stroke="#1a1a1a" stroke-width="1.7" fill="none" />
<path d="M 1017.9,1159.9 C 1008.7,1172.5 992.8,1179.3 979.1,1180.4" stroke="#1a1a1a" stroke-width="1.6" fill="none" />
<path d="M 1019.0,1163.3 C 1013.3,1177.0 1006.5,1186.2 1000.8,1194.8" stroke="#1a1a1a" stroke-width="1.6" fill="none" />
<path d="M 1064.7,1159.9 C 1072.7,1167.9 1086.4,1172.5 1097.8,1172.5" stroke="#1a1a1a" stroke-width="1.6" fill="none" />
<path d="M 1065.8,1163.3 C 1077.3,1174.7 1091.0,1181.6 1103.5,1188.0" stroke="#1a1a1a" stroke-width="1.6" fill="none" />
<path d="M1128.6,1170.2 L1178.9,1125.6" stroke="#1a1a1a" stroke-width="1.5"/>
<text class="t" x="1182" y="1132.5" font-size="22" >B</text>
<circle cx="171.9" cy="1412.9" r="23.8" fill="#231815"/>
<path d="M 161.0,1404.5 C 162.0,1398.3 166.6,1395.0 171.6,1395.0 C 177.4,1395.0 181.9,1398.3 181.9,1403.3 C 181.9,1407.0 179.9,1409.5 178.2,1410.5 C 180.7,1412.0 183.6,1414.9 183.6,1419.5 C 183.6,1426.1 178.2,1429.9 172.0,1429.9 C 165.3,1429.9 161.2,1426.1 160.6,1419.9 L 168.7,1419.5 C 169.1,1422.8 170.7,1424.0 172.4,1424.0 C 174.9,1424.0 176.5,1422.4 176.5,1419.5 C 176.5,1416.6 174.5,1414.5 171.6,1414.5 L 169.1,1414.5 L 169.1,1409.1 L 171.1,1409.1 C 173.2,1409.1 175.3,1407.8 175.3,1404.5 C 175.3,1402.4 173.6,1401.2 172.0,1401.2 C 169.5,1401.2 168.7,1402.9 168.2,1405.8 Z" stroke="none" stroke-width="0" fill="#fff" />
<g>
<path d="M 270.4,1431.5 C 262.9,1434.7 259.7,1442.2 259.0,1452.9 L 260.7,1581.6" stroke="#1a1a1a" stroke-width="1.7" fill="none" />
<path d="M 260.6,1581.6 C 261.0,1611.9 266.2,1626.4 280.8,1631.6 C 294.3,1637.2 306.7,1642.6 315.6,1645.5" stroke="#1a1a1a" stroke-width="1.7" fill="none" />
<path d="M 268.9,1594.9 L 270.4,1436.8 C 270.8,1432.5 274.7,1430.4 282.2,1429.7 L 436.7,1417.5 C 443.1,1417.5 447.0,1420.3 448.5,1425.0 C 450.6,1442.2 452.7,1474.4 454.9,1517.3 L 458.1,1560.0" stroke="#1a1a1a" stroke-width="1.7" fill="none" />
<path d="M 267.2,1434.0 C 273.6,1428.7 284.3,1427.2 297.2,1426.3 L 434.5,1415.6 C 440.5,1415.4 443.5,1416.9 445.2,1419.0" stroke="#1a1a1a" stroke-width="1.5" fill="none" />
<path d="M 268.0,1436.8 L 267.2,1592.4" stroke="#1a1a1a" stroke-width="1.2" fill="none" />
<path d="M 331.1,1427.2 C 334.7,1452.9 336.9,1474.4 334.7,1503.3 C 336.9,1517.3 338.0,1538.7 338.0,1583.1" stroke="#1a1a1a" stroke-width="1.5" fill="none" />
<path d="M 390.5,1421.8 C 395.9,1442.2 398.0,1463.6 397.6,1498.0 C 400.2,1517.3 401.3,1538.7 401.3,1576.1" stroke="#1a1a1a" stroke-width="1.5" fill="none" />
<path d="M 272.5,1509.1 L 457.0,1490.5" stroke="#1a1a1a" stroke-width="1.5" fill="none" />
<path d="M 458.3,1560.0 C 459.3,1568.3 464.5,1576.6 475.9,1580.8 C 498.8,1589.1 529.9,1601.5 546.5,1608.8 C 549.0,1610.9 549.6,1612.9 549.6,1614.4" stroke="#1a1a1a" stroke-width="1.6" fill="none" />
<path d="M 268.3,1595.3 C 280.8,1606.7 301.5,1616.1 328.5,1625.4 C 338.9,1629.5 343.0,1637.2 349.3,1639.9 L 549.6,1614.4" stroke="#1a1a1a" stroke-width="1.8" fill="none" />
<path d="M 268.3,1598.4 C 280.8,1609.8 301.5,1619.2 327.5,1628.5 C 337.9,1632.7 342.0,1639.9 349.3,1642.6 L 549.6,1617.1" stroke="#1a1a1a" stroke-width="1.3" fill="none" />
<path d="M 270.4,1594.3 C 284.9,1587.0 311.9,1583.3 338.9,1583.3 C 353.4,1579.1 380.4,1575.6 403.3,1576.0 C 417.8,1571.4 440.6,1568.3 457.2,1569.3" stroke="#1a1a1a" stroke-width="1.5" fill="none" />
<path d="M 296.3,1610.9 C 309.8,1604.0 330.6,1601.1 357.6,1600.7 C 363.8,1600.7 372.1,1600.5 375.2,1601.1 C 394.9,1595.3 419.9,1593.2 442.7,1595.7 C 459.3,1589.1 484.2,1586.0 501.9,1590.7" stroke="#1a1a1a" stroke-width="1.5" fill="none" />
<path d="M 328.5,1609.8 C 343.0,1606.1 368.0,1604.6 388.7,1607.3 C 405.3,1602.6 442.7,1598.4 465.5,1599.0" stroke="#1a1a1a" stroke-width="1.5" fill="none" />
<path d="M 338.9,1583.3 C 347.2,1589.1 353.4,1595.3 357.6,1599.9" stroke="#1a1a1a" stroke-width="1.5" fill="none" />
<path d="M 402.2,1576.6 C 409.5,1581.8 417.8,1588.0 420.9,1592.2" stroke="#1a1a1a" stroke-width="1.5" fill="none" />
<path d="M 375.2,1601.1 C 380.4,1603.6 384.6,1606.1 388.7,1607.3" stroke="#1a1a1a" stroke-width="1.5" fill="none" />
<path d="M 442.7,1595.7 C 451.0,1597.0 459.3,1598.2 465.5,1599.0" stroke="#1a1a1a" stroke-width="1.5" fill="none" />
<path d="M 401.2,1607.8 C 409.5,1614.0 415.7,1622.3 418.8,1628.5" stroke="#1a1a1a" stroke-width="1.5" fill="none" />
<path d="M 465.5,1599.4 C 473.8,1605.7 481.1,1614.0 484.2,1619.6" stroke="#1a1a1a" stroke-width="1.5" fill="none" />
<path d="M 347.2,1663.4 L 529.9,1642.0 C 544.8,1639.5 549.6,1636.4 549.6,1629.5 L 549.6,1614.4" stroke="#1a1a1a" stroke-width="1.7" fill="none" />
<path d="M 363.8,1668.0 L 534.0,1641.4" stroke="#1a1a1a" stroke-width="1.4" fill="none" />
<path d="M296.8,1536 C310,1538 318,1552 319,1567 L321.5,1622 C323,1641 330,1655 345,1660 L364,1663" stroke="#1a1a1a" stroke-width="14.5" fill="none" stroke-linecap="butt"/>
<path d="M296.8,1536 C310,1538 318,1552 319,1567 L321.5,1622 C323,1641 330,1655 345,1660 L364,1663" stroke="#fff" stroke-width="11.5" fill="none" stroke-linecap="butt"/>
<path d="M296.8,1536 C310,1538 318,1552 319,1567 L321.5,1622 C323,1641 330,1655 345,1660 L364,1663" stroke="#1a1a1a" stroke-width="1.3" fill="none"/>
<path d="M524.6,1511.3 C540,1513 551,1525 552.5,1545 L553.5,1619" stroke="#1a1a1a" stroke-width="12" fill="none" stroke-linecap="butt"/>
<path d="M524.6,1511.3 C540,1513 551,1525 552.5,1545 L553.5,1619" stroke="#fff" stroke-width="9.2" fill="none" stroke-linecap="butt"/>
<path d="M524.6,1511.3 C540,1513 551,1525 552.5,1545 L553.5,1619" stroke="#1a1a1a" stroke-width="1.3" fill="none"/>
<path d="M 250.8,1521.2 L 296.4,1527.9 C 302.5,1530.7 302.5,1541.7 297.0,1543.4 L 249.4,1535.1" stroke="#1a1a1a" stroke-width="1.7" fill="#fff" />
<ellipse cx="296.4" cy="1535.6" rx="3.9" ry="7.8" stroke="#1a1a1a" stroke-width="1.5" fill="none" />
<path d="M 250.8,1521.2 C 246.6,1520.4 241.1,1521.8 241.1,1527.9 C 241.1,1534.3 246.1,1535.6 249.9,1535.1" stroke="#1a1a1a" stroke-width="1.6" fill="#fff" />
<path d="M 247.2,1520.7 C 250.8,1523.2 250.8,1533.4 247.7,1535.6" stroke="#1a1a1a" stroke-width="1.3" fill="none" />
<path d="M 465.3,1498.3 L 523.4,1505.2 C 529.0,1508.0 529.0,1516.3 524.0,1518.5 L 464.7,1510.2" stroke="#1a1a1a" stroke-width="1.7" fill="#fff" />
<ellipse cx="524.0" cy="1511.8" rx="3.3" ry="6.6" stroke="#1a1a1a" stroke-width="1.5" fill="none" />
<path d="M 465.3,1498.3 C 462.0,1498.3 460.3,1500.2 460.3,1504.1 C 460.3,1508.5 462.5,1510.2 464.7,1510.2" stroke="#1a1a1a" stroke-width="1.6" fill="#fff" />
<path d="M 467.5,1498.5 C 469.7,1501.3 469.7,1508.0 467.5,1510.2" stroke="#1a1a1a" stroke-width="1.3" fill="none" />
</g>
<path d="M534.5,1631 L601,1631" stroke="#1a1a1a" stroke-width="1.5"/>
<text class="t" x="604" y="1638" font-size="22" >A</text>
<path d="M364.3,1666 L364.3,1800" stroke="#1a1a1a" stroke-width="1.5" fill="none" stroke-dasharray="2.2,3.3" stroke-linecap="butt"/>
<path d="M376,1666 L376,1743" stroke="#1a1a1a" stroke-width="1.5" fill="none" stroke-dasharray="2.2,3.3" stroke-linecap="butt"/>
<path d="M444.5,1660 L444.5,1741" stroke="#1a1a1a" stroke-width="1.5" fill="none" stroke-dasharray="2.2,3.3" stroke-linecap="butt"/>
<path d="M455.3,1660 L455.3,1794" stroke="#1a1a1a" stroke-width="1.5" fill="none" stroke-dasharray="2.2,3.3" stroke-linecap="butt"/>
<path d="M 364.7,1720.0 L 296.5,1752.9 L 252.2,1775.3 C 248.5,1778.4 250.4,1784.9 255.5,1783.5 L 300.0,1761.2 L 368.2,1725.2" stroke="#1a1a1a" stroke-width="1.6" fill="#fff" />
<path d="M 296.5,1752.9 C 299.3,1754.1 300.7,1758.8 300.0,1761.2" stroke="#1a1a1a" stroke-width="1.3" fill="none" />
<path d="M 254.1,1776.5 C 251.8,1778.8 252.2,1783.1 255.1,1783.5" stroke="#1a1a1a" stroke-width="1.2" fill="none" />
<path d="M 395.3,1742.4 L 396.5,1925.9 M 424.7,1743.1 L 425.9,1909.4" stroke="#1a1a1a" stroke-width="1.7" fill="none" />
<path d="M 396.5,1925.9 C 402.4,1929.9 421.2,1929.9 425.9,1926.6 L 425.9,1915.3" stroke="#1a1a1a" stroke-width="1.6" fill="none" />
<path d="M 424.7,1908.2 L 487.1,1905.4 C 501.6,1906.4 504.7,1917.6 496.9,1929.4 C 482.8,1943.5 451.8,1950.1 404.7,1950.6 C 371.8,1951.1 359.5,1944.0 361.9,1932.9 C 364.2,1924.7 385.4,1917.6 401.2,1912.9" stroke="#1a1a1a" stroke-width="1.7" fill="none" />
<path d="M 425.9,1915.3 L 484.7,1912.9 C 494.6,1914.1 496.0,1920.5 490.8,1927.5 C 477.6,1938.8 447.1,1943.1 404.7,1943.1 C 378.8,1943.1 367.1,1938.4 368.9,1934.1 C 371.8,1929.4 388.2,1922.4 403.5,1918.8" stroke="#1a1a1a" stroke-width="1.6" fill="none" />
<path d="M 401.2,1912.9 C 404.7,1911.8 405.9,1916.5 403.5,1918.8" stroke="#1a1a1a" stroke-width="1.3" fill="none" />
<path d="M 362.4,1712.9 C 370.6,1727.1 381.2,1733.6 392.9,1735.5 L 428.2,1735.5 C 442.4,1732.2 452.9,1724.7 460.0,1712.9" stroke="#1a1a1a" stroke-width="1.6" fill="#fff" />
<ellipse cx="411.3" cy="1707.8" rx="73.4" ry="9.9" stroke="#1a1a1a" stroke-width="1.7" fill="none" />
<ellipse cx="411.8" cy="1706.4" rx="50.6" ry="9.9" stroke="#1a1a1a" stroke-width="1.8" fill="none" />
<path d="M 392.5,1735.5 C 394.1,1740.0 397.6,1742.4 402.4,1743.5 L 423.5,1743.5 C 427.8,1742.1 429.6,1739.3 430.6,1735.5" stroke="#1a1a1a" stroke-width="1.6" fill="none" />
<path d="M372.7,1767 L372.7,1744.5 Q376.9,1742.5 381.1,1744.5 L381.1,1767" stroke="#1a1a1a" stroke-width="1.4" fill="#fff"/>
<path d="M372.7,1747.5 L381.1,1746.5" stroke="#1a1a1a" stroke-width="1.2"/>
<path d="M372.7,1750.1 L381.1,1749.1" stroke="#1a1a1a" stroke-width="1.2"/>
<path d="M372.7,1752.7 L381.1,1751.7" stroke="#1a1a1a" stroke-width="1.2"/>
<path d="M372.7,1755.3 L381.1,1754.3" stroke="#1a1a1a" stroke-width="1.2"/>
<path d="M372.7,1757.9 L381.1,1756.9" stroke="#1a1a1a" stroke-width="1.2"/>
<path d="M372.7,1760.5 L381.1,1759.5" stroke="#1a1a1a" stroke-width="1.2"/>
<path d="M372.7,1763.1 L381.1,1762.1" stroke="#1a1a1a" stroke-width="1.2"/>
<path d="M372.7,1765.7 L381.1,1764.7" stroke="#1a1a1a" stroke-width="1.2"/>
<path d="M366.6,1768.5 C366.6,1765.5 387.1,1765.5 387.1,1768.5 C387.1,1775.5 380.9,1775.5 376.9,1775.5 C372.9,1775.5 366.6,1775.5 366.6,1768.5 Z" stroke="#1a1a1a" stroke-width="1.5" fill="#fff"/>
<path d="M367.6,1770 C371.9,1772 381.9,1772 386.1,1770" stroke="#1a1a1a" stroke-width="1.1" fill="none"/>
<path d="M439.3,1765.9 L439.3,1742.6 Q443.5,1740.6 447.7,1742.6 L447.7,1765.9" stroke="#1a1a1a" stroke-width="1.4" fill="#fff"/>
<path d="M439.3,1745.6 L447.7,1744.6" stroke="#1a1a1a" stroke-width="1.2"/>
<path d="M439.3,1748.2 L447.7,1747.2" stroke="#1a1a1a" stroke-width="1.2"/>
<path d="M439.3,1750.8 L447.7,1749.8" stroke="#1a1a1a" stroke-width="1.2"/>
<path d="M439.3,1753.4 L447.7,1752.4" stroke="#1a1a1a" stroke-width="1.2"/>
<path d="M439.3,1756.0 L447.7,1755.0" stroke="#1a1a1a" stroke-width="1.2"/>
<path d="M439.3,1758.6 L447.7,1757.6" stroke="#1a1a1a" stroke-width="1.2"/>
<path d="M439.3,1761.2 L447.7,1760.2" stroke="#1a1a1a" stroke-width="1.2"/>
<path d="M439.3,1763.8 L447.7,1762.8" stroke="#1a1a1a" stroke-width="1.2"/>
<path d="M433.2,1767.4 C433.2,1764.4 453.8,1764.4 453.8,1767.4 C453.8,1774.4 447.5,1774.4 443.5,1774.4 C439.5,1774.4 433.2,1774.4 433.2,1767.4 Z" stroke="#1a1a1a" stroke-width="1.5" fill="#fff"/>
<path d="M434.2,1768.9 C438.5,1770.9 448.5,1770.9 452.8,1768.9" stroke="#1a1a1a" stroke-width="1.1" fill="none"/>
<path d="M359.8,1823.5 L359.8,1801 Q364,1799 368.2,1801 L368.2,1823.5" stroke="#1a1a1a" stroke-width="1.4" fill="#fff"/>
<path d="M359.8,1804.0 L368.2,1803.0" stroke="#1a1a1a" stroke-width="1.2"/>
<path d="M359.8,1806.6 L368.2,1805.6" stroke="#1a1a1a" stroke-width="1.2"/>
<path d="M359.8,1809.2 L368.2,1808.2" stroke="#1a1a1a" stroke-width="1.2"/>
<path d="M359.8,1811.8 L368.2,1810.8" stroke="#1a1a1a" stroke-width="1.2"/>
<path d="M359.8,1814.4 L368.2,1813.4" stroke="#1a1a1a" stroke-width="1.2"/>
<path d="M359.8,1817.0 L368.2,1816.0" stroke="#1a1a1a" stroke-width="1.2"/>
<path d="M359.8,1819.6 L368.2,1818.6" stroke="#1a1a1a" stroke-width="1.2"/>
<path d="M359.8,1822.2 L368.2,1821.2" stroke="#1a1a1a" stroke-width="1.2"/>
<path d="M353.8,1825.0 C353.8,1822.0 374.2,1822.0 374.2,1825.0 C374.2,1832.0 368.0,1832.0 364.0,1832.0 C360.0,1832.0 353.8,1832.0 353.8,1825.0 Z" stroke="#1a1a1a" stroke-width="1.5" fill="#fff"/>
<path d="M354.8,1826.5 C359.0,1828.5 369.0,1828.5 373.2,1826.5" stroke="#1a1a1a" stroke-width="1.1" fill="none"/>
<path d="M449.4,1817.6 L449.4,1795 Q453.6,1793 457.8,1795 L457.8,1817.6" stroke="#1a1a1a" stroke-width="1.4" fill="#fff"/>
<path d="M449.4,1798.0 L457.8,1797.0" stroke="#1a1a1a" stroke-width="1.2"/>
<path d="M449.4,1800.6 L457.8,1799.6" stroke="#1a1a1a" stroke-width="1.2"/>
<path d="M449.4,1803.2 L457.8,1802.2" stroke="#1a1a1a" stroke-width="1.2"/>
<path d="M449.4,1805.8 L457.8,1804.8" stroke="#1a1a1a" stroke-width="1.2"/>
<path d="M449.4,1808.4 L457.8,1807.4" stroke="#1a1a1a" stroke-width="1.2"/>
<path d="M449.4,1811.0 L457.8,1810.0" stroke="#1a1a1a" stroke-width="1.2"/>
<path d="M449.4,1813.6 L457.8,1812.6" stroke="#1a1a1a" stroke-width="1.2"/>
<path d="M449.4,1816.2 L457.8,1815.2" stroke="#1a1a1a" stroke-width="1.2"/>
<path d="M443.4,1819.1 C443.4,1816.1 463.9,1816.1 463.9,1819.1 C463.9,1826.1 457.6,1826.1 453.6,1826.1 C449.6,1826.1 443.4,1826.1 443.4,1819.1 Z" stroke="#1a1a1a" stroke-width="1.5" fill="#fff"/>
<path d="M444.4,1820.6 C448.6,1822.6 458.6,1822.6 462.9,1820.6" stroke="#1a1a1a" stroke-width="1.1" fill="none"/>
<path d="M484.7,1707 L542.4,1707 M460,1815.8 L527,1815.8" stroke="#1a1a1a" stroke-width="1.5"/>
<text class="t" x="544" y="1715.5" font-size="22" >C</text>
<text class="t" x="529" y="1824" font-size="22" >D</text>
<circle cx="790.5" cy="1412.8" r="23.8" fill="#231815"/>
<path d="M 778.9,1424.2 L 778.9,1417.8 L 793.2,1396.0 L 799.2,1396.0 L 799.2,1417.2 L 803.4,1417.2 L 803.4,1424.2 L 799.2,1424.2 L 799.2,1430.3 L 793.0,1430.3 L 793.0,1424.2 Z M 785.7,1417.2 L 792.4,1417.2 L 792.4,1406.6 Z" stroke="none" stroke-width="0" fill="#fff" fill-rule="evenodd"/>
<g transform="matrix(0.786,0,0,0.786,709.5,268.6)">
<path d="M 270.4,1431.5 C 262.9,1434.7 259.7,1442.2 259.0,1452.9 L 260.7,1581.6" stroke="#1a1a1a" stroke-width="2.04" fill="none" />
<path d="M 260.6,1581.6 C 261.0,1611.9 266.2,1626.4 280.8,1631.6 C 294.3,1637.2 306.7,1642.6 315.6,1645.5" stroke="#1a1a1a" stroke-width="2.04" fill="none" />
<path d="M 268.9,1594.9 L 270.4,1436.8 C 270.8,1432.5 274.7,1430.4 282.2,1429.7 L 436.7,1417.5 C 443.1,1417.5 447.0,1420.3 448.5,1425.0 C 450.6,1442.2 452.7,1474.4 454.9,1517.3 L 458.1,1560.0" stroke="#1a1a1a" stroke-width="2.04" fill="none" />
<path d="M 267.2,1434.0 C 273.6,1428.7 284.3,1427.2 297.2,1426.3 L 434.5,1415.6 C 440.5,1415.4 443.5,1416.9 445.2,1419.0" stroke="#1a1a1a" stroke-width="1.80" fill="none" />
<path d="M 268.0,1436.8 L 267.2,1592.4" stroke="#1a1a1a" stroke-width="1.44" fill="none" />
<path d="M 331.1,1427.2 C 334.7,1452.9 336.9,1474.4 334.7,1503.3 C 336.9,1517.3 338.0,1538.7 338.0,1583.1" stroke="#1a1a1a" stroke-width="1.80" fill="none" />
<path d="M 390.5,1421.8 C 395.9,1442.2 398.0,1463.6 397.6,1498.0 C 400.2,1517.3 401.3,1538.7 401.3,1576.1" stroke="#1a1a1a" stroke-width="1.80" fill="none" />
<path d="M 272.5,1509.1 L 457.0,1490.5" stroke="#1a1a1a" stroke-width="1.80" fill="none" />
<path d="M 458.3,1560.0 C 459.3,1568.3 464.5,1576.6 475.9,1580.8 C 498.8,1589.1 529.9,1601.5 546.5,1608.8 C 549.0,1610.9 549.6,1612.9 549.6,1614.4" stroke="#1a1a1a" stroke-width="1.92" fill="none" />
<path d="M 268.3,1595.3 C 280.8,1606.7 301.5,1616.1 328.5,1625.4 C 338.9,1629.5 343.0,1637.2 349.3,1639.9 L 549.6,1614.4" stroke="#1a1a1a" stroke-width="2.16" fill="none" />
<path d="M 268.3,1598.4 C 280.8,1609.8 301.5,1619.2 327.5,1628.5 C 337.9,1632.7 342.0,1639.9 349.3,1642.6 L 549.6,1617.1" stroke="#1a1a1a" stroke-width="1.56" fill="none" />
<path d="M 270.4,1594.3 C 284.9,1587.0 311.9,1583.3 338.9,1583.3 C 353.4,1579.1 380.4,1575.6 403.3,1576.0 C 417.8,1571.4 440.6,1568.3 457.2,1569.3" stroke="#1a1a1a" stroke-width="1.80" fill="none" />
<path d="M 296.3,1610.9 C 309.8,1604.0 330.6,1601.1 357.6,1600.7 C 363.8,1600.7 372.1,1600.5 375.2,1601.1 C 394.9,1595.3 419.9,1593.2 442.7,1595.7 C 459.3,1589.1 484.2,1586.0 501.9,1590.7" stroke="#1a1a1a" stroke-width="1.80" fill="none" />
<path d="M 328.5,1609.8 C 343.0,1606.1 368.0,1604.6 388.7,1607.3 C 405.3,1602.6 442.7,1598.4 465.5,1599.0" stroke="#1a1a1a" stroke-width="1.80" fill="none" />
<path d="M 338.9,1583.3 C 347.2,1589.1 353.4,1595.3 357.6,1599.9" stroke="#1a1a1a" stroke-width="1.80" fill="none" />
<path d="M 402.2,1576.6 C 409.5,1581.8 417.8,1588.0 420.9,1592.2" stroke="#1a1a1a" stroke-width="1.80" fill="none" />
<path d="M 375.2,1601.1 C 380.4,1603.6 384.6,1606.1 388.7,1607.3" stroke="#1a1a1a" stroke-width="1.80" fill="none" />
<path d="M 442.7,1595.7 C 451.0,1597.0 459.3,1598.2 465.5,1599.0" stroke="#1a1a1a" stroke-width="1.80" fill="none" />
<path d="M 401.2,1607.8 C 409.5,1614.0 415.7,1622.3 418.8,1628.5" stroke="#1a1a1a" stroke-width="1.80" fill="none" />
<path d="M 465.5,1599.4 C 473.8,1605.7 481.1,1614.0 484.2,1619.6" stroke="#1a1a1a" stroke-width="1.80" fill="none" />
<path d="M 347.2,1663.4 L 529.9,1642.0 C 544.8,1639.5 549.6,1636.4 549.6,1629.5 L 549.6,1614.4" stroke="#1a1a1a" stroke-width="2.04" fill="none" />
<path d="M 363.8,1668.0 L 534.0,1641.4" stroke="#1a1a1a" stroke-width="1.68" fill="none" />
<path d="M296.8,1536 C310,1538 318,1552 319,1567 L321.5,1622 C323,1641 330,1655 345,1660 L364,1663" stroke="#1a1a1a" stroke-width="17.40" fill="none" stroke-linecap="butt"/>
<path d="M296.8,1536 C310,1538 318,1552 319,1567 L321.5,1622 C323,1641 330,1655 345,1660 L364,1663" stroke="#fff" stroke-width="13.80" fill="none" stroke-linecap="butt"/>
<path d="M296.8,1536 C310,1538 318,1552 319,1567 L321.5,1622 C323,1641 330,1655 345,1660 L364,1663" stroke="#1a1a1a" stroke-width="1.56" fill="none"/>
<path d="M524.6,1511.3 C540,1513 551,1525 552.5,1545 L553.5,1619" stroke="#1a1a1a" stroke-width="14.40" fill="none" stroke-linecap="butt"/>
<path d="M524.6,1511.3 C540,1513 551,1525 552.5,1545 L553.5,1619" stroke="#fff" stroke-width="11.04" fill="none" stroke-linecap="butt"/>
<path d="M524.6,1511.3 C540,1513 551,1525 552.5,1545 L553.5,1619" stroke="#1a1a1a" stroke-width="1.56" fill="none"/>
<path d="M 250.8,1521.2 L 296.4,1527.9 C 302.5,1530.7 302.5,1541.7 297.0,1543.4 L 249.4,1535.1" stroke="#1a1a1a" stroke-width="2.04" fill="#fff" />
<ellipse cx="296.4" cy="1535.6" rx="3.9" ry="7.8" stroke="#1a1a1a" stroke-width="1.80" fill="none" />
<path d="M 250.8,1521.2 C 246.6,1520.4 241.1,1521.8 241.1,1527.9 C 241.1,1534.3 246.1,1535.6 249.9,1535.1" stroke="#1a1a1a" stroke-width="1.92" fill="#fff" />
<path d="M 247.2,1520.7 C 250.8,1523.2 250.8,1533.4 247.7,1535.6" stroke="#1a1a1a" stroke-width="1.56" fill="none" />
<path d="M 465.3,1498.3 L 523.4,1505.2 C 529.0,1508.0 529.0,1516.3 524.0,1518.5 L 464.7,1510.2" stroke="#1a1a1a" stroke-width="2.04" fill="#fff" />
<ellipse cx="524.0" cy="1511.8" rx="3.3" ry="6.6" stroke="#1a1a1a" stroke-width="1.80" fill="none" />
<path d="M 465.3,1498.3 C 462.0,1498.3 460.3,1500.2 460.3,1504.1 C 460.3,1508.5 462.5,1510.2 464.7,1510.2" stroke="#1a1a1a" stroke-width="1.92" fill="#fff" />
<path d="M 467.5,1498.5 C 469.7,1501.3 469.7,1508.0 467.5,1510.2" stroke="#1a1a1a" stroke-width="1.56" fill="none" />
</g>
<path d="M 995.2,1579.6 L 983.4,1585.8 L 960.6,1598.3 M 998.0,1583.4 L 985.7,1590.1 L 964.4,1603.2" stroke="#1a1a1a" stroke-width="1.6" fill="none" />
<path d="M 983.4,1585.8 C 985.3,1586.7 986.0,1589.0 985.7,1590.1" stroke="#1a1a1a" stroke-width="1.3" fill="none" />
<ellipse cx="962.5" cy="1600.8" rx="2.1" ry="3.7" stroke="#1a1a1a" stroke-width="1.4" fill="none" transform="rotate(-30 962.5 1601.1)"/>
<path d="M 1013.3,1577.4 L 1014.8,1707.3 M 1037.6,1575.5 L 1037.6,1696.0" stroke="#1a1a1a" stroke-width="1.7" fill="none" />
<path d="M 1014.8,1707.3 C 1020.8,1713.4 1033.9,1713.8 1037.6,1710.4 L 1037.6,1701.7" stroke="#1a1a1a" stroke-width="1.6" fill="none" />
<path d="M 1037.6,1696.0 L 1084.3,1694.2 C 1096.5,1695.1 1099.3,1702.6 1093.7,1711.9 C 1082.5,1723.1 1054.4,1729.1 1020.8,1729.1 C 994.6,1729.1 984.9,1723.5 986.8,1716.0 C 988.7,1709.5 1005.8,1704.8 1018.9,1701.1" stroke="#1a1a1a" stroke-width="1.7" fill="none" />
<path d="M 1038.5,1701.7 L 1082.5,1699.8 C 1090.9,1700.7 1091.8,1705.4 1088.1,1711.0 C 1078.7,1719.4 1052.6,1723.5 1020.8,1723.5 C 1000.2,1723.5 991.5,1719.8 992.8,1716.6 C 993.9,1713.0 1005.8,1708.6 1020.8,1704.8" stroke="#1a1a1a" stroke-width="1.6" fill="none" />
<path d="M 1018.9,1701.1 C 1021.7,1700.3 1022.7,1703.5 1020.8,1704.8" stroke="#1a1a1a" stroke-width="1.3" fill="none" />
<path d="M1117,1716 L1123.5,1716 L1123.5,1745 L1131.7,1745 L1119.6,1762.6 L1107.4,1745 L1117,1745 Z" fill="#1a1a1a"/>
<ellipse cx="1025.9" cy="1930.1" rx="81.5" ry="36.5" stroke="#1a1a1a" stroke-width="1.8" fill="none" />
<path d="M 944.8,1933.9 C 949.8,1948.4 983.3,1967.9 1025.9,1968.5 C 1068.6,1967.9 1102.0,1948.4 1107.1,1933.9" stroke="#1a1a1a" stroke-width="1.5" fill="none" />
<path d="M 1013.0,1893.6 L 1010.7,1904.2 C 1015.3,1909.1 1036.6,1909.1 1040.4,1904.2 L 1038.4,1893.6" stroke="#1a1a1a" stroke-width="1.7" fill="#fff" />
<ellipse cx="1025.6" cy="1893.6" rx="12.8" ry="4.0" stroke="#1a1a1a" stroke-width="1.6" fill="#fff" />
<path d="M 1011.5,1904.2 C 1004.6,1911.8 995.5,1914.9 987.9,1915.6" stroke="#1a1a1a" stroke-width="1.6" fill="none" />
<path d="M 1012.2,1905.4 C 1007.6,1913.4 1004.6,1919.5 1000.8,1924.0" stroke="#1a1a1a" stroke-width="1.6" fill="none" />
<path d="M 1039.9,1903.5 C 1045.7,1908.8 1053.3,1910.3 1060.2,1910.3" stroke="#1a1a1a" stroke-width="1.6" fill="none" />
<path d="M 1040.4,1905.0 C 1048.8,1911.8 1056.4,1916.4 1064.0,1919.5" stroke="#1a1a1a" stroke-width="1.6" fill="none" />
<path d="M 1014.5,1803.7 L 1015.3,1892.8 C 1021.4,1896.6 1030.5,1896.6 1035.8,1892.8 L 1035.8,1803.7" stroke="#1a1a1a" stroke-width="1.7" fill="#fff" />
<path d="M 1014.5,1802.2 C 1015.3,1799.2 1035.1,1799.2 1035.8,1802.2 L 1035.8,1804.0 C 1035.1,1807.1 1015.3,1807.1 1014.5,1804.0 Z" stroke="#1a1a1a" stroke-width="1.6" fill="#fff" />
<path d="M 1020.9,1800.7 L 1020.9,1773.6 C 1022.1,1771.5 1029.0,1771.5 1030.2,1773.6 L 1030.2,1800.7" stroke="#1a1a1a" stroke-width="1.6" fill="#fff" />
<path d="M 1023.2,1772.5 L 1023.2,1769.9 C 1024.1,1768.1 1027.1,1768.1 1027.9,1769.9 L 1027.9,1772.5" stroke="#1a1a1a" stroke-width="1.5" fill="none" />
</g>
</svg>
</body></html>
